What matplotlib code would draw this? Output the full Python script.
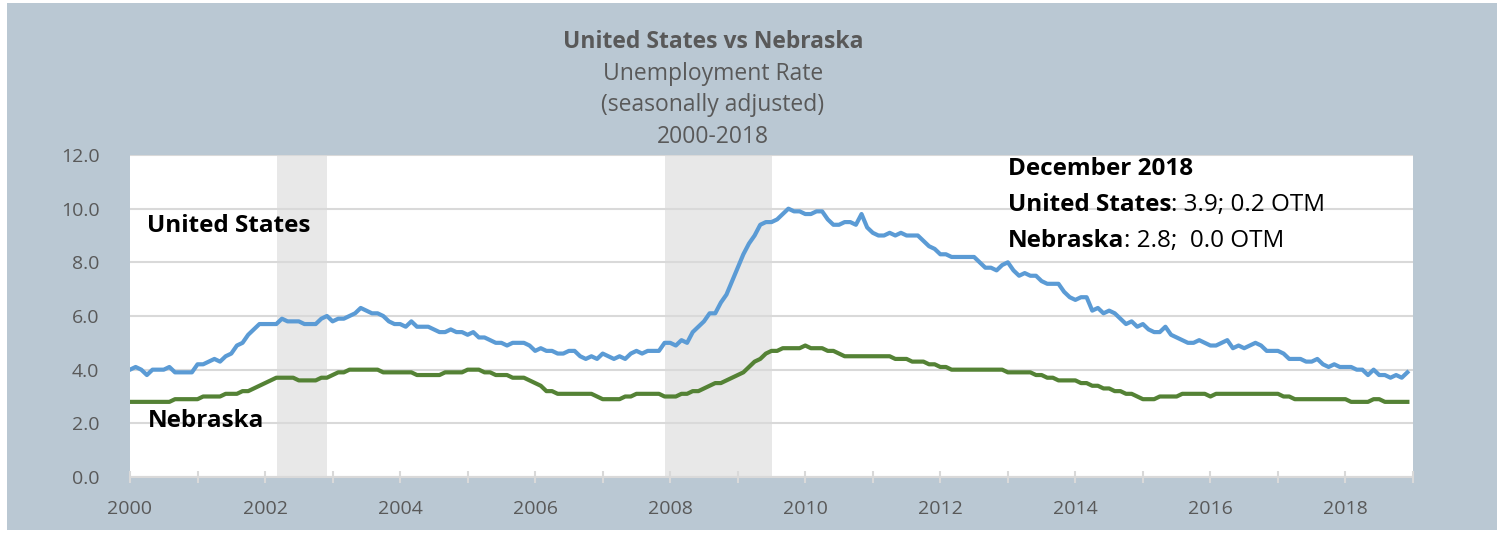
# unemployment rate, US vs Nebraska, monthly 2000-2018 (seasonally adjusted)

import numpy as np
import matplotlib
matplotlib.use("Agg")
import matplotlib.pyplot as plt
from matplotlib.patches import Rectangle

plt.rcParams["font.family"] = ["Open Sans", "DejaVu Sans"]

# monthly values, one row per year (Jan..Dec)
us_rate = [
    4.0, 4.1, 4.0, 3.8, 4.0, 4.0, 4.0, 4.1, 3.9, 3.9, 3.9, 3.9,  # 2000
    4.2, 4.2, 4.3, 4.4, 4.3, 4.5, 4.6, 4.9, 5.0, 5.3, 5.5, 5.7,  # 2001
    5.7, 5.7, 5.7, 5.9, 5.8, 5.8, 5.8, 5.7, 5.7, 5.7, 5.9, 6.0,  # 2002
    5.8, 5.9, 5.9, 6.0, 6.1, 6.3, 6.2, 6.1, 6.1, 6.0, 5.8, 5.7,  # 2003
    5.7, 5.6, 5.8, 5.6, 5.6, 5.6, 5.5, 5.4, 5.4, 5.5, 5.4, 5.4,  # 2004
    5.3, 5.4, 5.2, 5.2, 5.1, 5.0, 5.0, 4.9, 5.0, 5.0, 5.0, 4.9,  # 2005
    4.7, 4.8, 4.7, 4.7, 4.6, 4.6, 4.7, 4.7, 4.5, 4.4, 4.5, 4.4,  # 2006
    4.6, 4.5, 4.4, 4.5, 4.4, 4.6, 4.7, 4.6, 4.7, 4.7, 4.7, 5.0,  # 2007
    5.0, 4.9, 5.1, 5.0, 5.4, 5.6, 5.8, 6.1, 6.1, 6.5, 6.8, 7.3,  # 2008
    7.8, 8.3, 8.7, 9.0, 9.4, 9.5, 9.5, 9.6, 9.8, 10.0, 9.9, 9.9,  # 2009
    9.8, 9.8, 9.9, 9.9, 9.6, 9.4, 9.4, 9.5, 9.5, 9.4, 9.8, 9.3,  # 2010
    9.1, 9.0, 9.0, 9.1, 9.0, 9.1, 9.0, 9.0, 9.0, 8.8, 8.6, 8.5,  # 2011
    8.3, 8.3, 8.2, 8.2, 8.2, 8.2, 8.2, 8.0, 7.8, 7.8, 7.7, 7.9,  # 2012
    8.0, 7.7, 7.5, 7.6, 7.5, 7.5, 7.3, 7.2, 7.2, 7.2, 6.9, 6.7,  # 2013
    6.6, 6.7, 6.7, 6.2, 6.3, 6.1, 6.2, 6.1, 5.9, 5.7, 5.8, 5.6,  # 2014
    5.7, 5.5, 5.4, 5.4, 5.6, 5.3, 5.2, 5.1, 5.0, 5.0, 5.1, 5.0,  # 2015
    4.9, 4.9, 5.0, 5.1, 4.8, 4.9, 4.8, 4.9, 5.0, 4.9, 4.7, 4.7,  # 2016
    4.7, 4.6, 4.4, 4.4, 4.4, 4.3, 4.3, 4.4, 4.2, 4.1, 4.2, 4.1,  # 2017
    4.1, 4.1, 4.0, 4.0, 3.8, 4.0, 3.8, 3.8, 3.7, 3.8, 3.7, 3.9,  # 2018
]

ne_rate = [
    2.8, 2.8, 2.8, 2.8, 2.8, 2.8, 2.8, 2.8, 2.9, 2.9, 2.9, 2.9,  # 2000
    2.9, 3.0, 3.0, 3.0, 3.0, 3.1, 3.1, 3.1, 3.2, 3.2, 3.3, 3.4,  # 2001
    3.5, 3.6, 3.7, 3.7, 3.7, 3.7, 3.6, 3.6, 3.6, 3.6, 3.7, 3.7,  # 2002
    3.8, 3.9, 3.9, 4.0, 4.0, 4.0, 4.0, 4.0, 4.0, 3.9, 3.9, 3.9,  # 2003
    3.9, 3.9, 3.9, 3.8, 3.8, 3.8, 3.8, 3.8, 3.9, 3.9, 3.9, 3.9,  # 2004
    4.0, 4.0, 4.0, 3.9, 3.9, 3.8, 3.8, 3.8, 3.7, 3.7, 3.7, 3.6,  # 2005
    3.5, 3.4, 3.2, 3.2, 3.1, 3.1, 3.1, 3.1, 3.1, 3.1, 3.1, 3.0,  # 2006
    2.9, 2.9, 2.9, 2.9, 3.0, 3.0, 3.1, 3.1, 3.1, 3.1, 3.1, 3.0,  # 2007
    3.0, 3.0, 3.1, 3.1, 3.2, 3.2, 3.3, 3.4, 3.5, 3.5, 3.6, 3.7,  # 2008
    3.8, 3.9, 4.1, 4.3, 4.4, 4.6, 4.7, 4.7, 4.8, 4.8, 4.8, 4.8,  # 2009
    4.9, 4.8, 4.8, 4.8, 4.7, 4.7, 4.6, 4.5, 4.5, 4.5, 4.5, 4.5,  # 2010
    4.5, 4.5, 4.5, 4.5, 4.4, 4.4, 4.4, 4.3, 4.3, 4.3, 4.2, 4.2,  # 2011
    4.1, 4.1, 4.0, 4.0, 4.0, 4.0, 4.0, 4.0, 4.0, 4.0, 4.0, 4.0,  # 2012
    3.9, 3.9, 3.9, 3.9, 3.9, 3.8, 3.8, 3.7, 3.7, 3.6, 3.6, 3.6,  # 2013
    3.6, 3.5, 3.5, 3.4, 3.4, 3.3, 3.3, 3.2, 3.2, 3.1, 3.1, 3.0,  # 2014
    2.9, 2.9, 2.9, 3.0, 3.0, 3.0, 3.0, 3.1, 3.1, 3.1, 3.1, 3.1,  # 2015
    3.0, 3.1, 3.1, 3.1, 3.1, 3.1, 3.1, 3.1, 3.1, 3.1, 3.1, 3.1,  # 2016
    3.1, 3.0, 3.0, 2.9, 2.9, 2.9, 2.9, 2.9, 2.9, 2.9, 2.9, 2.9,  # 2017
    2.9, 2.8, 2.8, 2.8, 2.8, 2.9, 2.9, 2.8, 2.8, 2.8, 2.8, 2.8,  # 2018
]

# shaded recession bands as drawn on the original (decimal years)
recessions = [(2002.17, 2002.92), (2007.92, 2009.50)]

year_ticks = list(range(2000, 2020, 2))
y_ticks = [0, 2, 4, 6, 8, 10, 12]

months = 2000 + np.arange(len(us_rate)) / 12

BG = "#bac8d3"
GREY = "#595959"
W, H = 1503, 533

fig = plt.figure(figsize=(W / 100, H / 100), dpi=100)
fig.patch.set_facecolor("white")
fig.patches.append(Rectangle((7 / W, 3 / H), 1490 / W, 527 / H, transform=fig.transFigure,
                             facecolor=BG, edgecolor="none", zorder=-10))

ax = fig.add_axes([130 / W, 1 - 477 / H, 1283 / W, 322 / H])
ax.set_facecolor("white")

for start, end in recessions:
    ax.axvspan(start, end, color="#e8e8e8", lw=0, zorder=0)

ax.plot(months, us_rate, color="#5b9bd5", lw=3, solid_joinstyle="round", zorder=3)
ax.plot(months, ne_rate, color="#548235", lw=3, solid_joinstyle="round", zorder=3)

ax.set_xlim(2000, 2019)
ax.set_ylim(0, 12)
ax.set_yticks(y_ticks)
ax.set_yticklabels([f"{v:.1f}" for v in y_ticks])
ax.set_xticks(year_ticks)
ax.set_xticks(range(2000, 2020), minor=True)
ax.grid(axis="y", color="#d9d9d9", lw=1.5, zorder=1)
ax.set_axisbelow(True)
for side in ["top", "right", "left"]:
    ax.spines[side].set_visible(False)
ax.spines["bottom"].set_color("#d9d9d9")
ax.spines["bottom"].set_linewidth(1.5)
ax.tick_params(axis="y", length=0, pad=22, labelsize=14, labelcolor=GREY)
ax.tick_params(axis="x", which="both", direction="inout", length=9, width=1.5,
               color="#d9d9d9", labelsize=14, labelcolor=GREY, pad=12)

# series labels
ax.text(2000.25, 9.37, "United States", fontsize=17.5, fontweight="bold", va="center")
ax.text(2000.27, 2.09, "Nebraska", fontsize=17.5, fontweight="bold", va="center")

# latest-month box
FS = 17.5
ax.text(2013.0, 11.49, "December 2018", fontsize=FS, fontweight="bold", va="center")
t1 = ax.text(2013.0, 10.15, "United States", fontsize=FS, fontweight="bold", va="center")
ax.annotate(": 3.9; 0.2 OTM", xy=(1, 0), xycoords=t1, va="bottom", fontsize=FS)
t2 = ax.text(2013.0, 8.81, "Nebraska", fontsize=FS, fontweight="bold", va="center")
ax.annotate(": 2.8;  0.0 OTM", xy=(1, 0), xycoords=t2, va="bottom", fontsize=FS)

# title block
fig.text(713 / W, 1 - 42 / H, "United States vs Nebraska", ha="center", va="center",
         fontsize=16.5, fontweight="bold", color=GREY)
for y_px, line in [(74, "Unemployment Rate"), (105, "(seasonally adjusted)"), (137, "2000-2018")]:
    fig.text(713 / W, 1 - y_px / H, line, ha="center", va="center", fontsize=16.5, color=GREY)

fig.savefig("out.png", dpi=100)
